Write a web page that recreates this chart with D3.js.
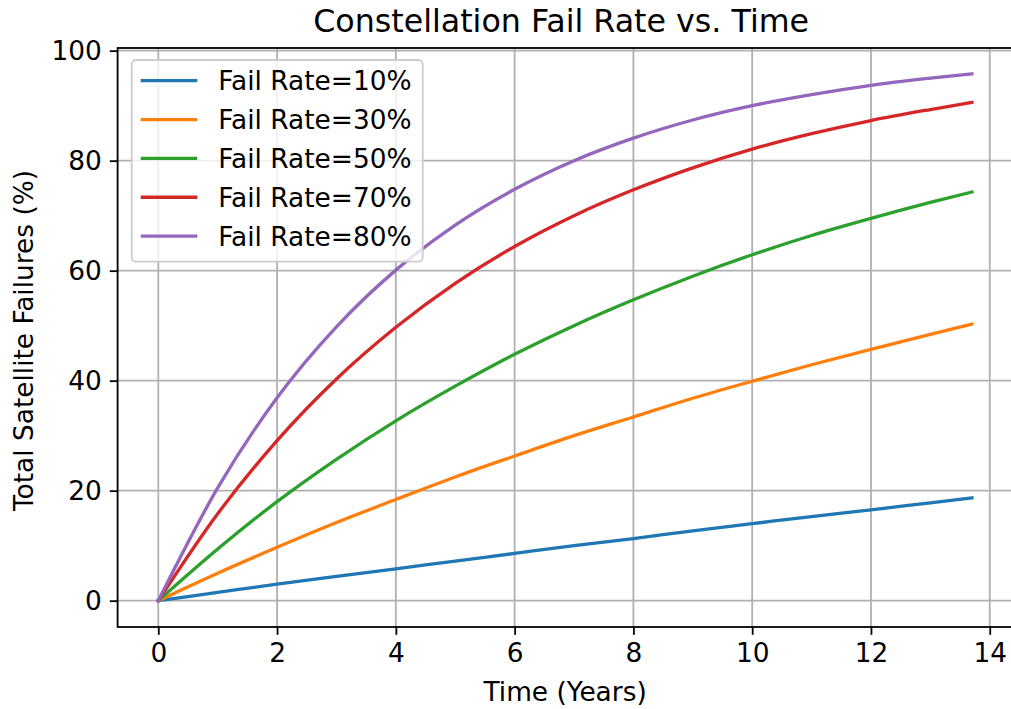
<!DOCTYPE html>
<html>
<head>
<meta charset="utf-8">
<script src="https://cdn.jsdelivr.net/npm/d3@7"></script>
<style>
  html, body { margin: 0; padding: 0; background: #ffffff; }
  svg { display: block; font-family: "DejaVu Sans", sans-serif; }
</style>
</head>
<body>
<svg id="chart" width="1011" height="709"></svg>
<script>
// Time axis samples (years)
const years = [0, 1, 2, 3, 4, 5, 6, 7, 8, 9, 10, 11, 12, 13, 13.7];

// Cumulative satellite failures (%) for each annual fail rate
const rate10 = [0, 1.5, 3.0, 4.4, 5.8, 7.2, 8.6, 10.0, 11.3, 12.7, 14.0, 15.3, 16.5, 17.8, 18.7];
const rate30 = [0, 5.0, 9.7, 14.2, 18.4, 22.5, 26.3, 30.0, 33.4, 36.8, 39.9, 42.9, 45.7, 48.4, 50.3];
const rate50 = [0, 9.4, 18.0, 25.7, 32.7, 39.0, 44.8, 50.0, 54.7, 59.0, 62.9, 66.4, 69.5, 72.4, 74.3];
const rate70 = [0, 15.8, 29.1, 40.3, 49.7, 57.7, 64.4, 70.0, 74.7, 78.7, 82.1, 84.9, 87.3, 89.3, 90.6];
const rate80 = [0, 20.5, 36.9, 49.8, 60.1, 68.3, 74.8, 80.0, 84.1, 87.4, 90.0, 92.0, 93.7, 95.0, 95.8];

const seriesNames = ["Fail Rate=10%", "Fail Rate=30%", "Fail Rate=50%", "Fail Rate=70%", "Fail Rate=80%"];
const seriesValues = [rate10, rate30, rate50, rate70, rate80];
const seriesColors = ["#1f77b4", "#ff7f0e", "#2ca02c", "#d62728", "#9467bd"];

const xTicks = [0, 2, 4, 6, 8, 10, 12, 14];
const yTicks = [0, 20, 40, 60, 80, 100];

const chartTitle = "Constellation Fail Rate vs. Time";
const xLabel = "Time (Years)";
const yLabel = "Total Satellite Failures (%)";

// Plot area
const plotLeft = 117.6, plotRight = 1012.6, plotTop = 48, plotBottom = 627;
const fontSize = 26.4;
const titleSize = 31.7;
const svg = d3.select("#chart");

const x = d3.scaleLinear().domain([-0.685, 14.385]).range([plotLeft, plotRight]);
const y = d3.scaleLinear().domain([-4.785, 100.485]).range([plotBottom, plotTop]);
const centerX = (plotLeft + plotRight) / 2;

// Grid
const grid = svg.append("g");
grid.selectAll(".gx").data(xTicks).join("line")
  .attr("x1", d => x(d)).attr("x2", d => x(d))
  .attr("y1", plotTop).attr("y2", plotBottom)
  .attr("stroke", "#b0b0b0").attr("stroke-width", 1.8);
grid.selectAll(".gy").data(yTicks).join("line")
  .attr("x1", plotLeft).attr("x2", plotRight)
  .attr("y1", d => y(d)).attr("y2", d => y(d))
  .attr("stroke", "#b0b0b0").attr("stroke-width", 1.8);

// Series lines
const line = d3.line()
  .x((d, i) => x(years[i]))
  .y(d => y(d))
  .curve(d3.curveMonotoneX);

svg.append("g").selectAll("path").data(seriesValues).join("path")
  .attr("d", d => line(d))
  .attr("fill", "none")
  .attr("stroke", (d, i) => seriesColors[i])
  .attr("stroke-width", 3.3)
  .attr("stroke-linecap", "square")
  .attr("stroke-linejoin", "round");

// Axes
const xAxis = d3.axisBottom(x).tickValues(xTicks).tickSize(7.8).tickPadding(8).tickFormat(d3.format("d"));
const yAxis = d3.axisLeft(y).tickValues(yTicks).tickSize(7.8).tickPadding(8).tickFormat(d3.format("d"));

const gx = svg.append("g").attr("transform", `translate(0,${plotBottom})`).call(xAxis);
const gy = svg.append("g").attr("transform", `translate(${plotLeft},0)`).call(yAxis);
[gx, gy].forEach(g => {
  g.select(".domain").remove();
  g.selectAll(".tick line").attr("stroke", "#000").attr("stroke-width", 1.8);
  g.selectAll(".tick text").attr("fill", "#000").attr("font-size", fontSize)
    .attr("font-family", "DejaVu Sans, sans-serif");
});

// Spines
svg.append("rect")
  .attr("x", plotLeft).attr("y", plotTop)
  .attr("width", plotRight - plotLeft).attr("height", plotBottom - plotTop)
  .attr("fill", "none").attr("stroke", "#000").attr("stroke-width", 1.8);

// Titles
svg.append("text").attr("x", centerX - 4).attr("y", 32)
  .attr("text-anchor", "middle").attr("font-size", titleSize).attr("fill", "#000")
  .text(chartTitle);
svg.append("text").attr("x", centerX).attr("y", 701)
  .attr("text-anchor", "middle").attr("font-size", fontSize).attr("fill", "#000")
  .text(xLabel);
svg.append("text")
  .attr("transform", `translate(33,${(plotTop + plotBottom) / 2 + 3}) rotate(-90)`)
  .attr("text-anchor", "middle").attr("font-size", fontSize).attr("fill", "#000")
  .text(yLabel);

// Legend
const legend = svg.append("g");
legend.append("rect")
  .attr("x", 131.7).attr("y", 60).attr("width", 291).attr("height", 201.7)
  .attr("rx", 4.4).attr("ry", 4.4)
  .attr("fill", "#ffffff").attr("fill-opacity", 0.8)
  .attr("stroke", "#cccccc").attr("stroke-width", 1.8);
const rows = legend.selectAll(".row").data(seriesNames).join("g")
  .attr("transform", (d, i) => `translate(0,${80.7 + i * 38.85})`);
rows.append("line")
  .attr("x1", 140.7).attr("x2", 197.3).attr("y1", 0).attr("y2", 0)
  .attr("stroke", (d, i) => seriesColors[i]).attr("stroke-width", 3.3);
rows.append("text")
  .attr("x", 218.3).attr("y", 0).attr("dy", "0.36em")
  .attr("font-size", fontSize).attr("fill", "#000")
  .text(d => d);
</script>
</body>
</html>
